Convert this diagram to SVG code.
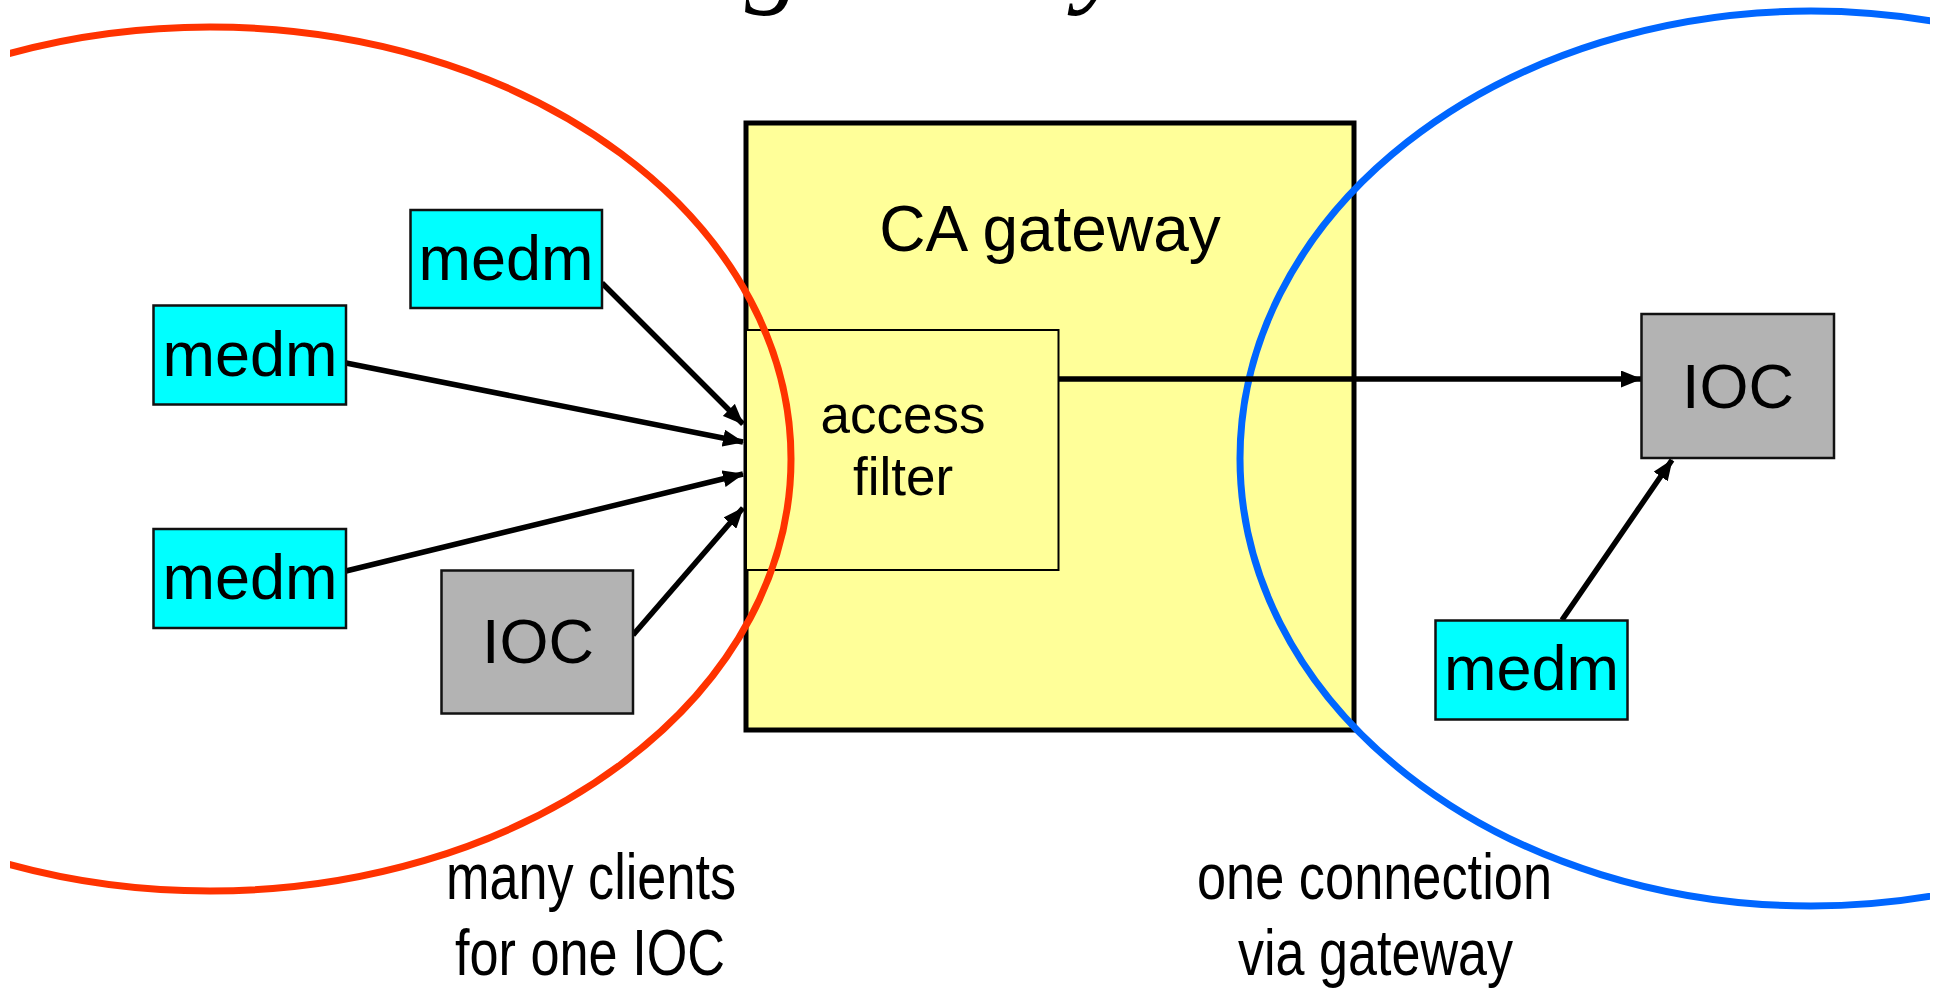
<svg xmlns="http://www.w3.org/2000/svg" width="1939" height="992" viewBox="0 0 1939 992">
  <defs>
    <clipPath id="slide">
      <rect x="10" y="0" width="1920" height="992"/>
    </clipPath>
    <marker id="arrow" viewBox="0 0 21 17" refX="20" refY="8.5" markerWidth="21" markerHeight="17" markerUnits="userSpaceOnUse" orient="auto">
      <path d="M0,0 L21,8.5 L0,17 Z" fill="#000"/>
    </marker>
    <style>
      .sans { font-family: "Liberation Sans", Arial, sans-serif; fill: #000; }
      .narrow { font-family: "Liberation Sans", Arial, sans-serif; font-size: 64px; fill: #000; text-anchor: middle; }
      .title { font-family: "Liberation Serif", "Times New Roman", serif; font-style: italic; font-size: 115px; fill: #000; }
      .client { fill: #00FFFF; stroke: #111; stroke-width: 2.5; }
      .ioc { fill: #B3B3B3; stroke: #111; stroke-width: 2.5; }
      .lbl { font-size: 63px; text-anchor: middle; }
      .conn { stroke: #000; stroke-width: 5.5; fill: none; marker-end: url(#arrow); }
      .zone { fill: none; stroke-width: 7; }
    </style>
  </defs>

  <g clip-path="url(#slide)">
    <!-- slide title, sitting mostly above the visible area -->
    <text class="title" x="745" y="-8">gateway</text>

    <!-- gateway with its access filter -->
    <g id="gateway">
      <rect x="746" y="123" width="608" height="607" fill="#FFFF99" stroke="#000" stroke-width="5"/>
      <text class="sans" x="1050" y="251" font-size="64" text-anchor="middle">CA gateway</text>
    </g>
    <g id="access-filter">
      <rect x="746" y="330" width="312.5" height="240" fill="#FFFF99" stroke="#000" stroke-width="2"/>
      <text class="sans" x="903" y="433" font-size="53" text-anchor="middle">access</text>
      <text class="sans" x="903" y="495" font-size="53" text-anchor="middle">filter</text>
    </g>

    <!-- network zones -->
    <g id="zones">
      <ellipse class="zone" cx="210" cy="459" rx="581" ry="432" stroke="#FF3300"/>
      <ellipse class="zone" cx="1811" cy="458.5" rx="571" ry="447.5" stroke="#0066FF"/>
    </g>

    <!-- connectors -->
    <g id="connectors">
      <line class="conn" x1="602" y1="283" x2="743" y2="424"/>
      <line class="conn" x1="346" y1="363" x2="743" y2="442"/>
      <line class="conn" x1="346" y1="571" x2="743" y2="474"/>
      <line class="conn" x1="633" y1="635" x2="743" y2="508"/>
      <line class="conn" x1="1058.5" y1="379" x2="1641" y2="379"/>
      <line class="conn" x1="1562" y1="620" x2="1672" y2="460"/>
    </g>

    <!-- clients and IOCs -->
    <g id="medm-top">
      <rect class="client" x="410.5" y="210" width="191.5" height="98"/>
      <text class="sans lbl" x="506" y="280">medm</text>
    </g>
    <g id="medm-upper">
      <rect class="client" x="153.5" y="305.5" width="192.5" height="99"/>
      <text class="sans lbl" x="250" y="376">medm</text>
    </g>
    <g id="medm-lower">
      <rect class="client" x="153.5" y="529" width="192.5" height="99"/>
      <text class="sans lbl" x="250" y="599">medm</text>
    </g>
    <g id="ioc-left">
      <rect class="ioc" x="441.5" y="570.5" width="191.5" height="143"/>
      <text class="sans lbl" x="538" y="663">IOC</text>
    </g>
    <g id="ioc-right">
      <rect class="ioc" x="1641.5" y="314" width="192.5" height="144"/>
      <text class="sans lbl" x="1738" y="408">IOC</text>
    </g>
    <g id="medm-right">
      <rect class="client" x="1435.5" y="620.5" width="192" height="99"/>
      <text class="sans lbl" x="1531.5" y="690">medm</text>
    </g>

    <!-- captions -->
    <g id="captions">
      <text class="narrow" x="591" y="899" textLength="290" lengthAdjust="spacingAndGlyphs">many clients</text>
      <text class="narrow" x="590" y="975" textLength="270" lengthAdjust="spacingAndGlyphs">for one IOC</text>
      <text class="narrow" x="1374.5" y="899" textLength="355" lengthAdjust="spacingAndGlyphs">one connection</text>
      <text class="narrow" x="1375.5" y="975" textLength="275" lengthAdjust="spacingAndGlyphs">via gateway</text>
    </g>
  </g>
</svg>
